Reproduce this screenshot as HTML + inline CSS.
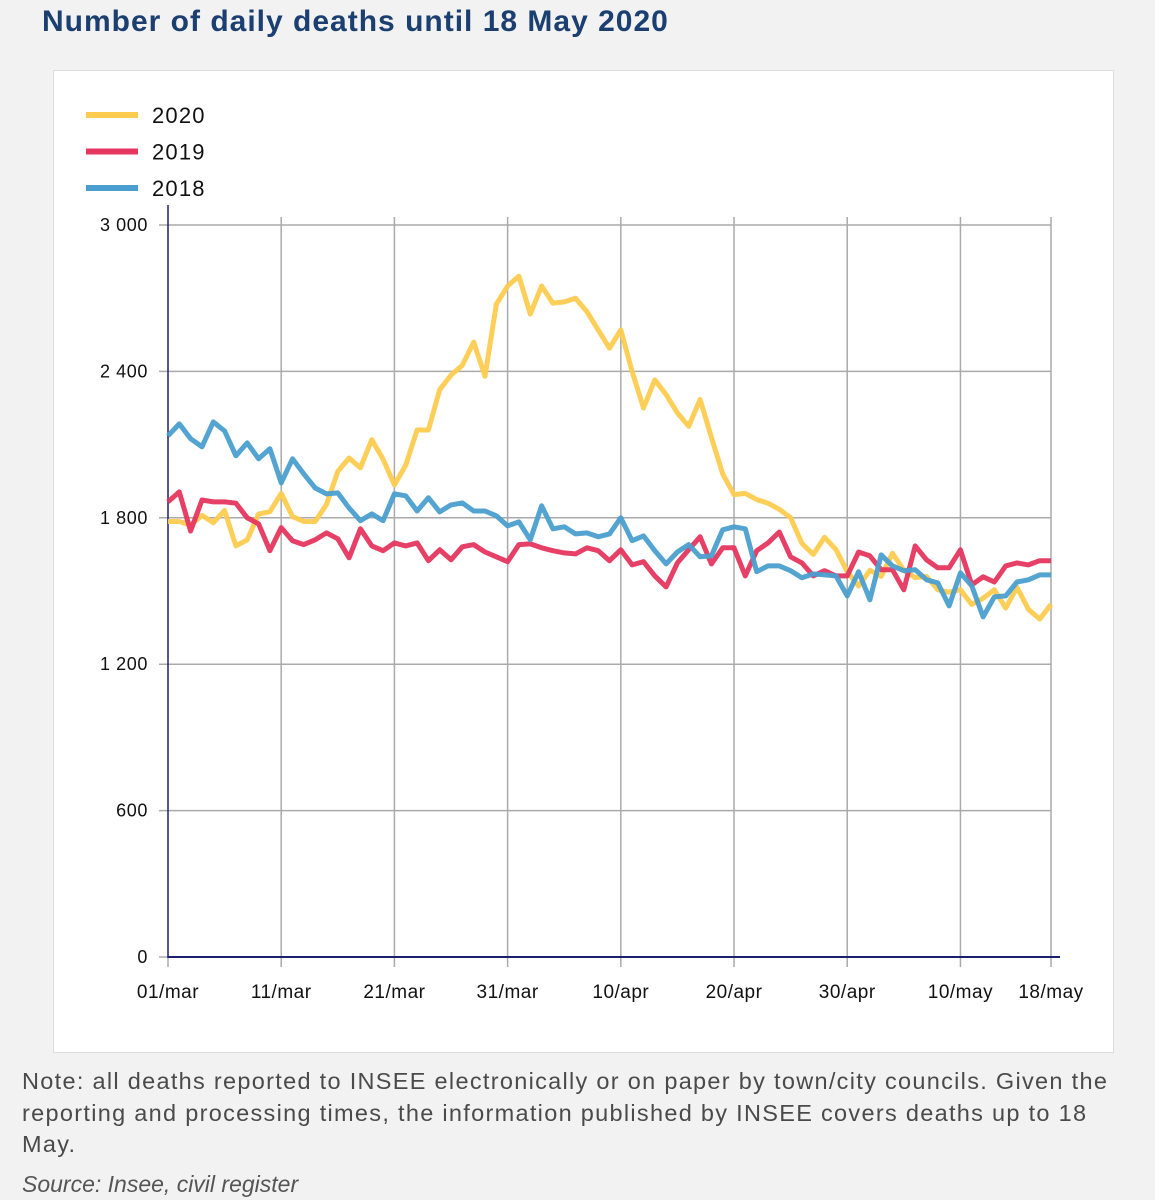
<!DOCTYPE html>
<html><head><meta charset="utf-8"><style>
html,body{margin:0;padding:0;width:1155px;height:1200px;background:#f2f2f2;overflow:hidden;font-family:"Liberation Sans","DejaVu Sans",sans-serif;}
#title{position:absolute;left:42px;top:5px;font-size:30px;font-weight:bold;color:#1b3f70;letter-spacing:1.0px;}
#panel{position:absolute;left:53px;top:70px;width:1059px;height:981px;background:#fff;border:1px solid #dcdcdc;}
#note{position:absolute;left:22px;top:1066px;width:1100px;font-size:23.5px;letter-spacing:1.3px;line-height:31.5px;color:#4a4a4a;}
#source{position:absolute;left:22px;top:1171px;font-size:23px;letter-spacing:0px;font-style:italic;color:#555;}
svg{position:absolute;left:0;top:0;}
</style></head><body>
<div id="title">Number of daily deaths until 18 May 2020</div>
<div id="panel"></div>
<svg id="chart" width="1155" height="1200"></svg>
<div id="note">Note: all deaths reported to INSEE electronically or on paper by town/city councils. Given the reporting and processing times, the information published by INSEE covers deaths up to 18 May.</div>
<div id="source">Source: Insee, civil register</div>
<script>
const yTicks=[0,600,1200,1800,2400,3000];
const yTickLabels=["0","600","1 200","1 800","2 400","3 000"];
const xTickDays=[0,10,20,30,40,50,60,70,78];
const xTickLabels=["01/mar","11/mar","21/mar","31/mar","10/apr","20/apr","30/apr","10/may","18/may"];
const seriesNames=["2020","2019","2018"];
const seriesColors=["#fdcb4f","#e5365f","#4b9fd0"];
const s2020=[1785,1785,1770,1810,1780,1830,1685,1710,1815,1825,1900,1805,1785,1785,1855,1990,2045,2005,2120,2040,1935,2015,2160,2160,2325,2385,2425,2520,2380,2675,2750,2790,2635,2750,2680,2685,2700,2645,2570,2495,2570,2400,2250,2365,2305,2230,2175,2285,2130,1980,1895,1900,1875,1860,1835,1800,1695,1650,1720,1670,1580,1520,1585,1560,1655,1585,1555,1560,1505,1495,1505,1445,1470,1505,1430,1515,1425,1385,1445];
const s2019=[1865,1906,1746,1873,1865,1865,1860,1800,1775,1665,1760,1706,1690,1710,1738,1714,1636,1755,1685,1665,1697,1685,1697,1624,1669,1628,1681,1690,1660,1640,1620,1690,1693,1677,1665,1656,1652,1677,1665,1624,1669,1607,1620,1562,1517,1615,1669,1722,1611,1677,1677,1562,1665,1697,1742,1640,1615,1562,1583,1562,1562,1660,1644,1587,1587,1505,1685,1628,1595,1595,1669,1525,1558,1537,1603,1615,1607,1624,1624];
const s2018=[2136,2185,2124,2091,2193,2156,2054,2107,2042,2083,1943,2042,1980,1922,1898,1902,1840,1788,1816,1788,1898,1890,1828,1882,1824,1853,1861,1828,1828,1808,1767,1783,1710,1849,1755,1763,1734,1738,1722,1734,1800,1706,1726,1665,1611,1660,1690,1640,1644,1751,1763,1755,1579,1603,1603,1583,1554,1570,1566,1562,1480,1579,1464,1648,1603,1583,1587,1546,1533,1439,1574,1521,1394,1476,1480,1537,1546,1566,1566];
const NS="http://www.w3.org/2000/svg";
const svg=document.getElementById('chart');
const X0=168,X1=1051,Y0=957,Y1=225;
const xs=d=>X0+d*(X1-X0)/78;
const ys=v=>Y0-v*(Y0-Y1)/3000;
function mk(t,a){const e=document.createElementNS(NS,t);for(const k in a)e.setAttribute(k,a[k]);svg.appendChild(e);return e;}
yTicks.forEach((v,i)=>{
  if(v>0){const g=mk('line',{x1:159,x2:X1,y1:ys(v),y2:ys(v),stroke:'#aaa','stroke-width':1.5});
  
  }
  else{const g=mk('line',{x1:159,x2:X0,y1:ys(v),y2:ys(v),stroke:'#aaa','stroke-width':1.5});
  
  }
  const t=mk('text',{x:148,y:ys(v)+6,'text-anchor':'end','font-size':18,'letter-spacing':0.6,fill:'#111'});
  t.textContent=yTickLabels[i];
  
  
});
xTickDays.forEach((d,i)=>{
  const g=mk('line',{x1:xs(d),x2:xs(d),y1:d===0?957:217,y2:967,stroke:'#aaa','stroke-width':1.5});
  
  
  const t=mk('text',{x:xs(d)+(i===8?0:0),y:998,'text-anchor':'middle','font-size':19,'letter-spacing':0.5,fill:'#111'});
  t.textContent=xTickLabels[i];
  
  
});
const ya=mk('line',{x1:X0,x2:X0,y1:205,y2:958,stroke:'#1a1f6e','stroke-width':1.5});


const xa=mk('line',{x1:X0,x2:1060,y1:Y0,y2:Y0,stroke:'#1a1f6e','stroke-width':2});


const allSeries=[s2020,s2019,s2018];
[0,1,2].forEach(i=>{
  const pts=allSeries[i].map((v,d)=>xs(d).toFixed(1)+','+ys(v).toFixed(1)).join(' ');
  const p=mk('polyline',{points:pts,fill:'none',stroke:seriesColors[i],'stroke-width':5,'stroke-linejoin':'round','stroke-opacity':0.95});
  
  
});
seriesNames.forEach((n,i)=>{
  const y=115+i*36.5;
  const l=mk('line',{x1:86,x2:138,y1:y,y2:y,stroke:seriesColors[i],'stroke-width':6});
  
  
  const t=mk('text',{x:152,y:y+8,'font-size':22,'letter-spacing':1.2,fill:'#111'});
  t.textContent=n;
  
  
});
</script>
</body></html>
